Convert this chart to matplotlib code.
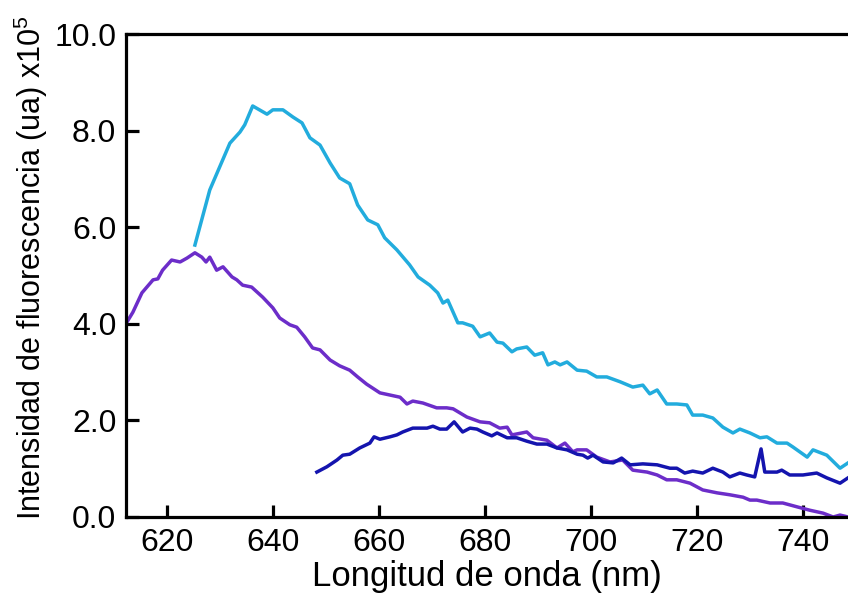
import matplotlib
matplotlib.use('Agg')
import matplotlib.pyplot as plt

plt.rcParams['font.family'] = ['Liberation Sans', 'DejaVu Sans']
plt.rcParams['mathtext.default'] = 'regular'

# espectros (nm, intensidad x10^5)
wl_cyan = [625.3, 628.1, 631.9, 633.8, 634.7, 636.2, 638.9, 640.0, 641.9, 643.8,
           645.5, 647.0, 648.9, 650.8, 652.6, 654.5, 656.0, 657.9, 659.8, 661.1,
           663.4, 665.8, 667.4, 669.6, 671.1, 672.1, 673.0, 674.9, 675.8, 677.7,
           679.1, 680.9, 682.3, 683.4, 685.1, 686.0, 687.9, 689.4, 690.9, 691.9,
           693.2, 694.2, 695.5, 697.4, 699.2, 701.1, 703.0, 705.5, 707.9, 709.8,
           711.1, 712.5, 714.3, 716.2, 718.1, 719.2, 721.1, 723.0, 724.9, 726.8,
           728.1, 730.0, 731.9, 733.2, 735.1, 737.0, 738.1, 740.8, 741.9, 744.5,
           747.0, 748.5]
int_cyan = [5.63, 6.77, 7.74, 7.97, 8.12, 8.51, 8.34, 8.43, 8.43, 8.28,
            8.16, 7.85, 7.70, 7.33, 7.02, 6.90, 6.46, 6.15, 6.05, 5.78,
            5.53, 5.22, 4.97, 4.80, 4.64, 4.43, 4.49, 4.02, 4.02, 3.95,
            3.73, 3.81, 3.62, 3.60, 3.42, 3.48, 3.52, 3.35, 3.40, 3.15,
            3.21, 3.15, 3.21, 3.04, 3.02, 2.90, 2.90, 2.80, 2.69, 2.73,
            2.55, 2.63, 2.34, 2.34, 2.32, 2.11, 2.11, 2.05, 1.86, 1.74,
            1.82, 1.74, 1.64, 1.66, 1.53, 1.53, 1.45, 1.24, 1.39, 1.28,
            1.01, 1.12]

wl_purple = [612.5, 613.6, 615.3, 617.4, 618.3, 619.2, 620.9, 622.5, 623.8, 625.3,
             626.6, 627.4, 628.1, 629.4, 630.6, 632.3, 633.2, 634.3, 636.0, 638.1,
             640.0, 641.3, 643.2, 644.5, 646.0, 647.5, 648.9, 650.8, 652.6, 654.5,
             656.0, 657.7, 660.2, 664.0, 665.3, 666.4, 668.3, 670.9, 672.8, 674.0,
             676.6, 679.1, 680.9, 682.8, 684.2, 685.1, 687.9, 689.1, 691.7, 693.6,
             695.1, 696.6, 697.4, 699.2, 701.1, 703.6, 706.0, 707.9, 710.6, 712.5,
             714.3, 716.2, 718.7, 721.1, 723.8, 726.2, 728.7, 730.0, 731.3, 733.8,
             736.2, 738.9, 741.3, 743.8, 745.7, 747.0, 748.5]
int_purple = [4.04, 4.24, 4.64, 4.91, 4.93, 5.11, 5.32, 5.28, 5.36, 5.47,
              5.38, 5.28, 5.38, 5.11, 5.18, 4.97, 4.91, 4.80, 4.76, 4.55,
              4.33, 4.12, 3.98, 3.93, 3.73, 3.50, 3.46, 3.25, 3.13, 3.04,
              2.90, 2.75, 2.57, 2.48, 2.34, 2.40, 2.36, 2.26, 2.26, 2.24,
              2.07, 1.97, 1.95, 1.84, 1.86, 1.70, 1.76, 1.64, 1.59, 1.43,
              1.53, 1.35, 1.39, 1.39, 1.24, 1.14, 1.18, 0.97, 0.93, 0.87,
              0.77, 0.77, 0.70, 0.56, 0.50, 0.46, 0.41, 0.35, 0.35, 0.29,
              0.29, 0.21, 0.14, 0.08, 0.00, 0.04, 0.00]

wl_blue = [648.3, 650.2, 652.1, 653.2, 654.5, 656.4, 658.3, 659.1, 660.2, 662.1,
           663.4, 664.5, 666.4, 669.1, 670.2, 671.5, 672.8, 674.2, 675.8, 677.2,
           678.5, 679.6, 681.3, 682.3, 684.2, 686.0, 687.9, 689.8, 691.7, 693.6,
           695.5, 697.4, 698.5, 699.4, 700.4, 702.3, 704.2, 705.8, 707.4, 709.8,
           712.5, 714.9, 716.2, 717.7, 719.2, 721.1, 723.0, 724.9, 726.2, 728.1,
           729.4, 730.9, 732.1, 732.8, 735.1, 736.0, 737.5, 740.0, 742.6, 744.5,
           747.0, 748.5]
int_blue = [0.93, 1.04, 1.18, 1.28, 1.30, 1.43, 1.53, 1.66, 1.61, 1.66,
            1.70, 1.76, 1.84, 1.84, 1.88, 1.82, 1.82, 1.97, 1.76, 1.84,
            1.82, 1.76, 1.68, 1.74, 1.64, 1.64, 1.57, 1.51, 1.51, 1.43,
            1.39, 1.30, 1.28, 1.22, 1.28, 1.14, 1.12, 1.22, 1.08, 1.10,
            1.08, 1.01, 1.01, 0.91, 0.95, 0.91, 1.01, 0.93, 0.83, 0.91,
            0.87, 0.83, 1.41, 0.93, 0.93, 0.97, 0.87, 0.87, 0.91, 0.81,
            0.70, 0.81]

x_ticks = [620, 640, 660, 680, 700, 720, 740]
y_ticks = [0, 2, 4, 6, 8, 10]

fig = plt.figure(figsize=(8.48, 5.96), dpi=100)
ax = fig.add_axes([126 / 848, 79 / 596, 722 / 848, 483 / 596])

ax.plot(wl_cyan, int_cyan, color='#22ACDD', lw=2.5, solid_joinstyle='round')
ax.plot(wl_purple, int_purple, color='#6C2DC9', lw=2.5, solid_joinstyle='round')
ax.plot(wl_blue, int_blue, color='#1414AE', lw=2.5, solid_joinstyle='round')

ax.set_xlim(612.3, 748.5)
ax.set_ylim(0, 10)
ax.set_xticks(x_ticks)
ax.set_yticks(y_ticks)
ax.set_yticklabels(['%.1f' % v for v in y_ticks])

ax.spines['right'].set_visible(False)
for s in ['left', 'bottom', 'top']:
    ax.spines[s].set_linewidth(2.3)
ax.tick_params(direction='in', length=9, width=2.3, labelsize=23)
ax.tick_params(axis='x', pad=8)
ax.tick_params(axis='y', pad=7)

ax.set_xlabel('Longitud de onda (nm)', fontsize=25)
ax.xaxis.set_label_coords(0.5, -0.09)
ax.set_ylabel('Intensidad de fluorescencia (ua) x10$^5$', fontsize=22)
ax.yaxis.set_label_coords(-0.105, 0.517)

fig.savefig('out.png', dpi=100)
